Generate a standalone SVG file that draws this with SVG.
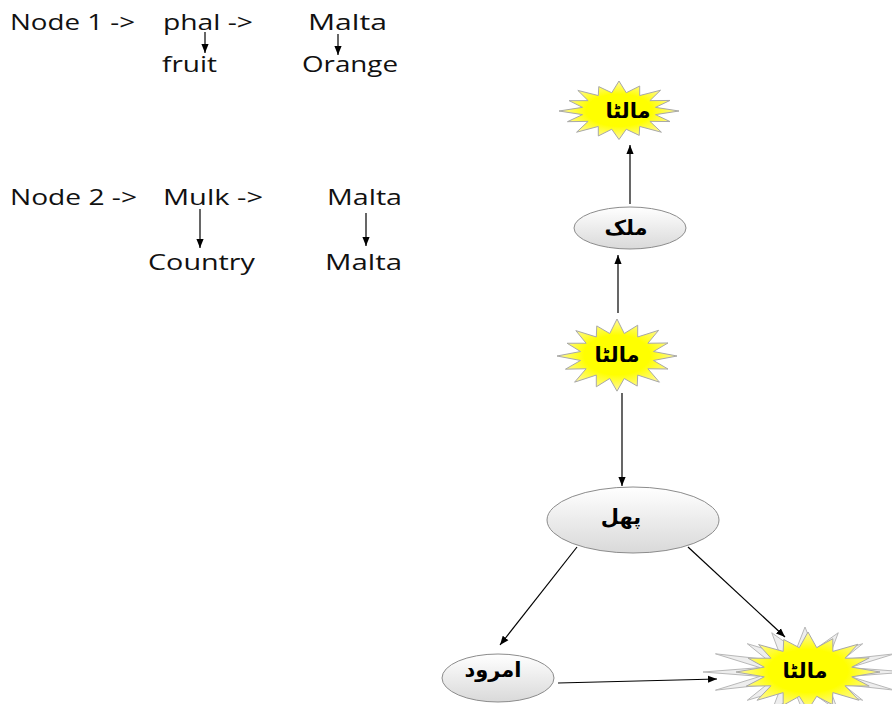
<svg xmlns="http://www.w3.org/2000/svg" xmlns:xlink="http://www.w3.org/1999/xlink" width="892" height="704" viewBox="0 0 892 704">
  <style>
    .note { font-family: "Open Sans", "Liberation Sans", sans-serif; font-size: 22px; fill: #111; }
    .ur { font-family: "DejaVu Sans", "Noto Sans", sans-serif; font-size: 21px; font-weight: bold; fill: #000; }
    .edge { stroke: #000; stroke-width: 1.2; fill: none; marker-end: url(#arr); }
    .oval { fill: url(#ovalFill); stroke: #8c8c8c; stroke-width: 1; }
    .burst { fill: url(#burstFill); stroke: #a8a8a8; stroke-width: 1; vector-effect: non-scaling-stroke; }
    .halo { fill: #eeeeee; stroke: #b8b8b8; stroke-width: 1; vector-effect: non-scaling-stroke; }
  </style>
  <defs>
    <marker id="arr" viewBox="0 0 10 10" refX="10" refY="5" markerWidth="9" markerHeight="9" markerUnits="userSpaceOnUse" orient="auto">
      <path d="M0,1 L10,5 L0,9 Z" fill="#000"/>
    </marker>
    <linearGradient id="ovalFill" x1="0" y1="0" x2="0" y2="1">
      <stop offset="0" stop-color="#ffffff"/>
      <stop offset="1" stop-color="#d9d9d9"/>
    </linearGradient>
    <radialGradient id="burstFill" cx="0.5" cy="0.5" r="0.5">
      <stop offset="0.55" stop-color="#ffff00"/>
      <stop offset="1" stop-color="#fff8a0"/>
    </radialGradient>
    <!-- unit explosion shapes, scaled per node -->
    <path id="burstA" class="burst" d="M1,0 L0.608,0.121 L0.850,0.352 L0.515,0.345 L0.707,0.707 L0.345,0.515 L0.337,0.813 L0.121,0.608 L0,0.95 L-0.121,0.608 L-0.345,0.832 L-0.345,0.515 L-0.707,0.707 L-0.515,0.345 L-0.859,0.356 L-0.608,0.121 L-1,0 L-0.608,-0.121 L-0.832,-0.345 L-0.515,-0.345 L-0.686,-0.686 L-0.345,-0.515 L-0.337,-0.813 L-0.121,-0.608 L0,-1 L0.121,-0.608 L0.345,-0.832 L0.345,-0.515 L0.693,-0.693 L0.515,-0.345 L0.850,-0.352 L0.608,-0.121 Z"/>
    <path id="haloB" class="halo" d="M1,0 L0.441,0.088 L0.878,0.364 L0.374,0.250 L0.566,0.566 L0.250,0.374 L0.326,0.785 L0.088,0.441 L0,0.9 L-0.088,0.441 L-0.326,0.785 L-0.250,0.374 L-0.566,0.566 L-0.374,0.250 L-0.878,0.364 L-0.441,0.088 L-1,0 L-0.441,-0.088 L-0.878,-0.364 L-0.374,-0.250 L-0.566,-0.566 L-0.250,-0.374 L-0.326,-0.785 L-0.088,-0.441 L0,-0.9 L0.088,-0.441 L0.326,-0.785 L0.250,-0.374 L0.566,-0.566 L0.374,-0.250 L0.878,-0.364 L0.441,-0.088 Z"/>
  </defs>

  <rect width="892" height="704" fill="#fff"/>

  <!-- gloss notes -->
  <g id="notes">
    <text class="note" x="10" y="30" textLength="125" lengthAdjust="spacingAndGlyphs">Node 1 -&gt;</text>
    <text class="note" x="163" y="30" textLength="90" lengthAdjust="spacingAndGlyphs">phal -&gt;</text>
    <text class="note" x="308" y="30" textLength="79" lengthAdjust="spacingAndGlyphs">Malta</text>
    <text class="note" x="162" y="72" textLength="55" lengthAdjust="spacingAndGlyphs">fruit</text>
    <text class="note" x="302" y="72" textLength="96" lengthAdjust="spacingAndGlyphs">Orange</text>
    <line class="edge" x1="205" y1="32" x2="205" y2="53"/>
    <line class="edge" x1="338" y1="34" x2="338" y2="55"/>

    <text class="note" x="10" y="205" textLength="127" lengthAdjust="spacingAndGlyphs">Node 2 -&gt;</text>
    <text class="note" x="163" y="205" textLength="100" lengthAdjust="spacingAndGlyphs">Mulk -&gt;</text>
    <text class="note" x="327" y="205" textLength="75" lengthAdjust="spacingAndGlyphs">Malta</text>
    <text class="note" x="148" y="270" textLength="107" lengthAdjust="spacingAndGlyphs">Country</text>
    <text class="note" x="325" y="270" textLength="77" lengthAdjust="spacingAndGlyphs">Malta</text>
    <line class="edge" x1="200" y1="209" x2="200" y2="248"/>
    <line class="edge" x1="366" y1="213" x2="366" y2="246"/>
  </g>

  <!-- connectors -->
  <g id="connectors">
    <line class="edge" x1="630" y1="204" x2="630" y2="145"/>
    <line class="edge" x1="618" y1="313" x2="618" y2="255"/>
    <line class="edge" x1="622" y1="393" x2="622" y2="486"/>
    <line class="edge" x1="577" y1="547" x2="500" y2="645"/>
    <line class="edge" x1="688" y1="547" x2="785" y2="637"/>
    <line class="edge" x1="558" y1="683" x2="717" y2="679"/>
  </g>

  <g id="malta-top">
    <use xlink:href="#burstA" transform="translate(619,111) scale(60,30)"/>
    <text class="ur" x="628" y="118" text-anchor="middle">مالٹا</text>
  </g>

  <g id="mulk">
    <ellipse class="oval" cx="630" cy="228" rx="56" ry="21"/>
    <text class="ur" x="626" y="235" text-anchor="middle">ملک</text>
  </g>

  <g id="malta-mid">
    <use xlink:href="#burstA" transform="translate(617,356) scale(60,37)"/>
    <text class="ur" x="617" y="362" text-anchor="middle">مالٹا</text>
  </g>

  <g id="phal">
    <ellipse class="oval" cx="633" cy="520" rx="86" ry="33"/>
    <text class="ur" x="621" y="524" text-anchor="middle">پھل</text>
  </g>

  <g id="amrood">
    <ellipse class="oval" cx="498" cy="678" rx="56" ry="24"/>
    <text class="ur" x="493" y="677" text-anchor="middle">امرود</text>
  </g>

  <g id="malta-bottom">
    <use xlink:href="#haloB" transform="translate(805,672) scale(102,50)"/>
    <use xlink:href="#burstA" transform="translate(808,672) scale(72,40)"/>
    <text class="ur" x="805" y="678" text-anchor="middle">مالٹا</text>
  </g>
</svg>
